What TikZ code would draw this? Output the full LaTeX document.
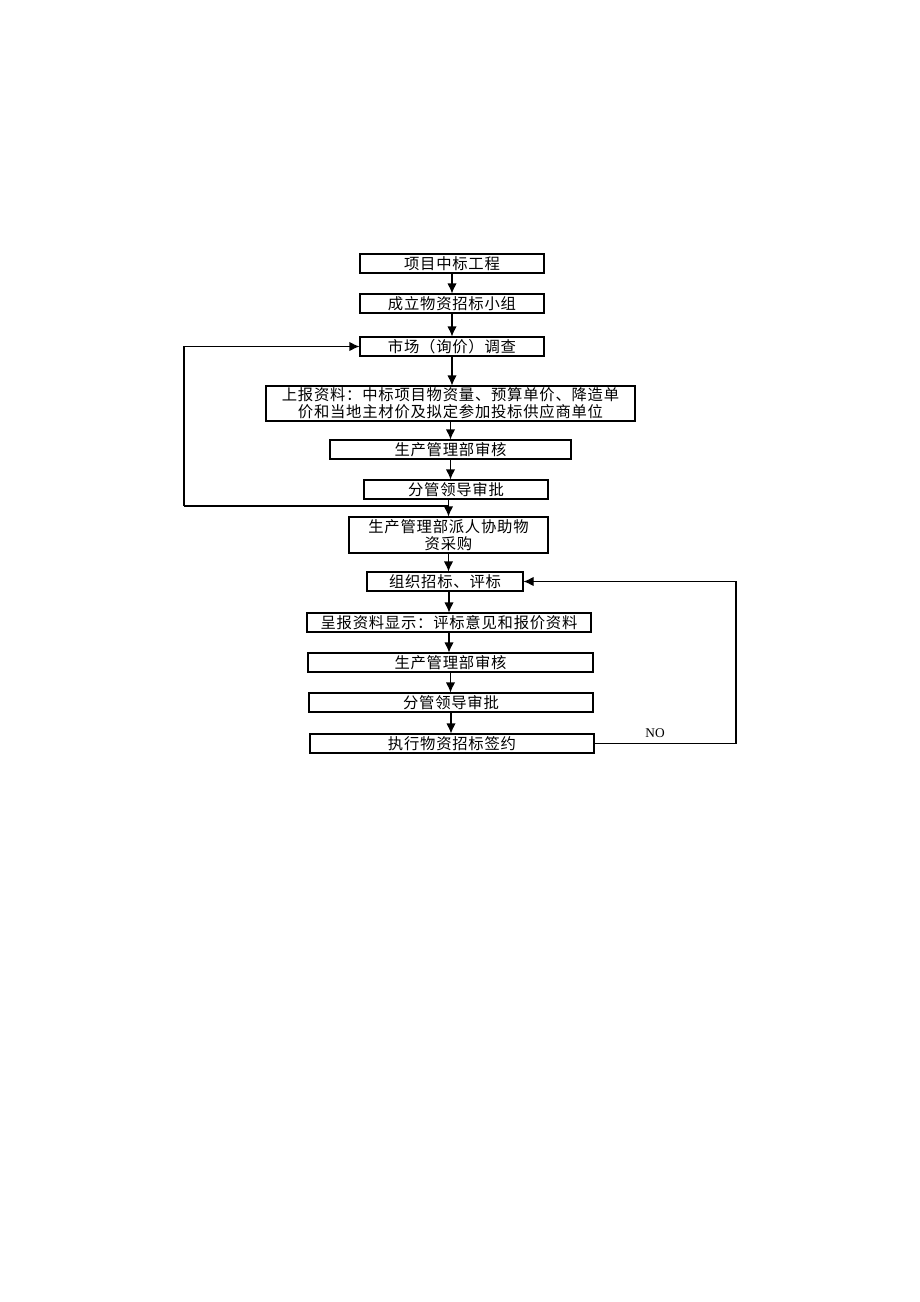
\documentclass[tikz,border=0pt]{standalone}
\usepackage{fontspec}
\setmainfont{Liberation Serif}
\newfontfamily\cjk[LetterSpace=5]{Noto Sans CJK SC}
\usetikzlibrary{arrows.meta,positioning}

\tikzset{
    stepbox/.style={draw,line width=0.8pt,inner sep=0pt,align=center,
        font=\cjk\fontsize{11.5}{13}\selectfont},
    arr/.style={-{Latex[length=7.5pt,width=7pt]},line width=0.8pt}
}

\begin{document}
\begin{tikzpicture}[x=0.75pt,y=-0.75pt]
    % page
    \useasboundingbox (0,0) rectangle (920,1302);

    % boxes
    \node[stepbox,minimum width=184*0.75pt,minimum height=19*0.75pt] (m1) at (452,263.5) {项目中标工程};
    \node[stepbox,minimum width=184*0.75pt,minimum height=19*0.75pt] (m2) at (452,303.5) {成立物资招标小组};
    \node[stepbox,minimum width=184*0.75pt,minimum height=19*0.75pt] (m3) at (452,346.5) {市场（询价）调查};
    \node[stepbox,minimum width=369*0.75pt,minimum height=35*0.75pt] (m4) at (450.5,403.5)
        {上报资料：中标项目物资量、预算单价、降造单\\价和当地主材价及拟定参加投标供应商单位};
    \node[stepbox,minimum width=241*0.75pt,minimum height=19*0.75pt] (m5) at (450.5,449.5) {生产管理部审核};
    \node[stepbox,minimum width=184*0.75pt,minimum height=19*0.75pt] (m6) at (456,489.5) {分管领导审批};
    \node[stepbox,minimum width=199*0.75pt,minimum height=36*0.75pt] (m7) at (448.5,535)
        {生产管理部派人协助物\\资采购};
    \node[stepbox,minimum width=156*0.75pt,minimum height=19*0.75pt] (m8) at (445,581.5) {组织招标、评标};
    \node[stepbox,minimum width=284*0.75pt,minimum height=19*0.75pt] (m9) at (449,622.5) {呈报资料显示：评标意见和报价资料};
    \node[stepbox,minimum width=285*0.75pt,minimum height=19*0.75pt] (m10) at (450.5,662.5) {生产管理部审核};
    \node[stepbox,minimum width=284*0.75pt,minimum height=19*0.75pt] (m11) at (451,702.5) {分管领导审批};
    \node[stepbox,minimum width=284*0.75pt,minimum height=19*0.75pt] (m12) at (452,743.5) {执行物资招标签约};

    % main flow
    \draw[arr] (m1.south) -- (m1.south |- m2.north);
    \draw[arr] (m2.south) -- (m2.south |- m3.north);
    \draw[arr] (m3.south) -- (m3.south |- m4.north);
    \draw[arr] (m4.south) -- (m4.south |- m5.north);
    \draw[arr] (m5.south) -- (m5.south |- m6.north);
    \draw[arr] (m6.south -| m7.north) -- (m7.north);
    \draw[arr] (m7.south) -- (m7.south |- m8.north);
    \draw[arr] (m9.north |- m8.south) -- (m9.north);
    \draw[arr] (m9.south) -- (m9.south |- m10.north);
    \draw[arr] (m10.south) -- (m10.south |- m11.north);
    \draw[arr] (m11.south) -- (m11.south |- m12.north);

    % back to market survey
    \coordinate (jn) at (448.5,506);
    \coordinate (lp) at (184,506);
    \draw[line width=0.8pt] (jn) -- (lp);
    \draw[arr] (lp) |- (m3.west);

    % NO loop
    \coordinate (rp) at (736,743.5);
    \draw[line width=0.8pt] (m12.east) -- (rp);
    \draw[arr] (rp) |- (m8.east);
    \node[font=\fontsize{10}{11}\selectfont] (no) at (655,733) {NO};
\end{tikzpicture}
\end{document}
